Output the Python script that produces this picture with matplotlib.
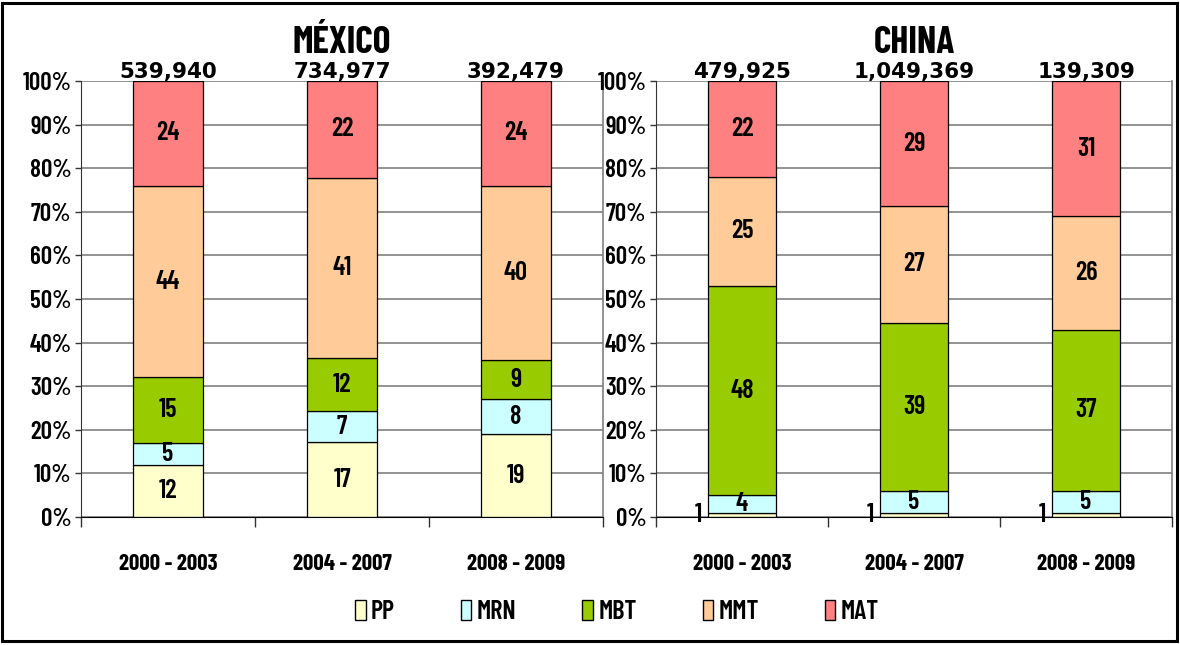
import matplotlib.pyplot as plt
import numpy as np
from matplotlib.patches import Patch, Rectangle
from matplotlib.ticker import FuncFormatter

# Share of exports by technology level, per period (labels are percent)
periods = ['2000 - 2003', '2004 - 2007', '2008 - 2009']
series = ['PP', 'MRN', 'MBT', 'MMT', 'MAT']
colors = ['#FFFFCC', '#CCFFFF', '#99CC00', '#FFCC99', '#FF8080']

mexico_totals = [539940, 734977, 392479]
mexico_pp = [12, 17, 19]
mexico_mrn = [5, 7, 8]
mexico_mbt = [15, 12, 9]
mexico_mmt = [44, 41, 40]
mexico_mat = [24, 22, 24]

china_totals = [479925, 1049369, 139309]
china_pp = [1, 1, 1]
china_mrn = [4, 5, 5]
china_mbt = [48, 39, 37]
china_mmt = [25, 27, 26]
china_mat = [22, 29, 31]

NARROW = ['Barlow Condensed', 'DejaVu Sans']
WIDE = ['DejaVu Sans']
GRID = '#808080'

W, H = 1180, 645


def draw_panel(ax, title, totals, shares):
    shares = np.array(shares, dtype=float)
    pct = shares / shares.sum(axis=0) * 100
    x = np.arange(len(periods))
    bottom = np.zeros(len(periods))
    for i, name in enumerate(series):
        ax.bar(x, pct[i], 0.4, bottom=bottom, color=colors[i],
               edgecolor='black', linewidth=0.9, zorder=2)
        for j in range(len(periods)):
            val = int(shares[i, j])
            # thin slices get their value written beside the bar
            xpos = x[j] - 0.255 if val < 3 else x[j]
            ax.text(xpos, bottom[j] + pct[i, j] / 2, str(val),
                    ha='center', va='center', family=NARROW,
                    fontweight=600, fontsize=19, zorder=3)
        bottom += pct[i]

    for j, tot in enumerate(totals):
        ax.annotate(f'{tot:,}', (x[j], 100), xytext=(0, 2.5),
                    textcoords='offset points', ha='center', va='baseline',
                    family=WIDE, fontweight='bold', fontsize=15.5,
                    annotation_clip=False)
    ax.annotate(title, (0.5, 1.0), xycoords='axes fraction', xytext=(0, 20.5),
                textcoords='offset points', ha='center', va='baseline',
                family=NARROW, fontweight='bold', fontsize=27)

    ax.set_xlim(-0.5, len(periods) - 0.5)
    ax.set_ylim(0, 100)
    ax.set_yticks(np.arange(0, 101, 10))
    ax.yaxis.set_major_formatter(FuncFormatter(lambda v, p: f'{v:.0f}%'))
    ax.set_xticks(x)
    ax.set_xticklabels(periods)
    ax.set_xticks(np.arange(-0.5, len(periods)), minor=True)
    ax.tick_params(axis='x', which='major', length=0, pad=27)
    ax.tick_params(axis='x', which='minor', length=7, width=1, color='#333333')
    ax.tick_params(axis='y', length=4, width=1, color='#333333', pad=3)
    for lab in ax.get_xticklabels():
        lab.set_family(NARROW)
        lab.set_fontweight('bold')
        lab.set_fontsize(16.5)
    for lab in ax.get_yticklabels():
        lab.set_family(NARROW)
        lab.set_fontweight(600)
        lab.set_fontsize(18)

    ax.yaxis.grid(True, color=GRID, linewidth=1.2, zorder=0)
    ax.set_axisbelow(True)
    ax.spines['top'].set_visible(False)
    ax.spines['right'].set_color(GRID)
    ax.spines['right'].set_linewidth(1.2)
    ax.spines['left'].set_color('#333333')
    ax.spines['bottom'].set_color('black')


fig = plt.figure(figsize=(W / 100, H / 100), dpi=100)
ax_mx = fig.add_axes([81 / W, 1 - 517 / H, (603 - 81) / W, (517 - 81) / H])
ax_cn = fig.add_axes([656 / W, 1 - 517 / H, (1172 - 656) / W, (517 - 81) / H])

draw_panel(ax_mx, 'MÉXICO', mexico_totals,
           [mexico_pp, mexico_mrn, mexico_mbt, mexico_mmt, mexico_mat])
draw_panel(ax_cn, 'CHINA', china_totals,
           [china_pp, china_mrn, china_mbt, china_mmt, china_mat])

handles = [Patch(facecolor=c, edgecolor='black', linewidth=1) for c in colors]
fig.legend(handles, series, ncol=5, loc='center',
           bbox_to_anchor=(617 / W, 1 - 612 / H), frameon=False,
           prop={'family': NARROW, 'weight': 600, 'size': 19},
           handlelength=0.4, handleheight=0.8, handletextpad=0.2,
           columnspacing=2.5)

# outer frame
fig.add_artist(Rectangle((2 / W, 1 - 641 / H), 1175 / W, 638 / H,
                         transform=fig.transFigure, fill=False,
                         edgecolor='black', linewidth=2.2))

fig.savefig('out.png', dpi=100)
